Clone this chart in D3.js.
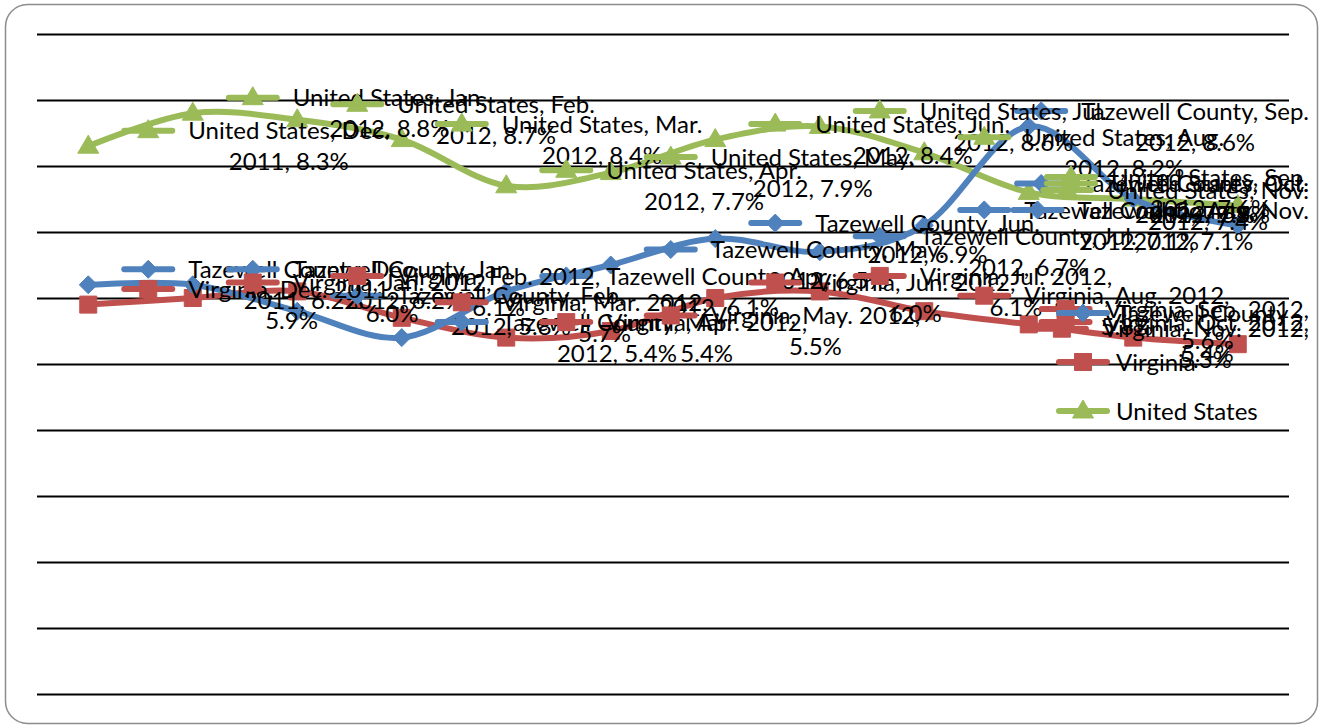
<!DOCTYPE html>
<html>
<head>
<meta charset="utf-8">
<script src="https://cdn.jsdelivr.net/npm/d3@7"></script>
<style>
  html, body { margin: 0; padding: 0; background: #fff; }
  svg { display: block; }
  text { font-family: Lato, "Open Sans", sans-serif; fill: #000; }
</style>
</head>
<body>
<svg id="chart" width="1324" height="728"></svg>
<script>
// Monthly unemployment rates, not seasonally adjusted (%)
const months = ["Dec.", "Jan.", "Feb.", "Mar.", "Apr.", "May.", "Jun.", "Jul.", "Aug.", "Sep.", "Oct.", "Nov."];
const years  = ["2011", "2012", "2012", "2012", "2012", "2012", "2012", "2012", "2012", "2012", "2012", "2012"];

const tazewellCounty = [6.2, 6.2, 5.8, 5.4, 6.1, 6.5, 6.9, 6.7, 7.1, 8.6, 7.5, 7.1];
const virginia       = [5.9, 6.0, 6.1, 5.7, 5.4, 5.5, 6.0, 6.1, 5.8, 5.6, 5.4, 5.3];
const unitedStates   = [8.3, 8.8, 8.7, 8.4, 7.7, 7.9, 8.4, 8.6, 8.2, 7.6, 7.5, 7.4];

const seriesNames = ["Tazewell County", "Virginia", "United States"];
const yTicks = [0, 1, 2, 3, 4, 5, 6, 7, 8, 9, 10];

const categories = months.map((m, i) => m + " " + years[i]);
const series = [
  { name: seriesNames[0], values: tazewellCounty, color: "#4F81BD", shape: "diamond" },
  { name: seriesNames[1], values: virginia,       color: "#C0504D", shape: "square" },
  { name: seriesNames[2], values: unitedStates,   color: "#9BBB59", shape: "triangle" }
];

const W = 1324, H = 728;
const svg = d3.select("#chart");
const fontSize = 24;
const lineH = 31;

// outer chart frame
svg.append("rect")
  .attr("x", 5.5).attr("y", 4.5)
  .attr("width", W - 12).attr("height", H - 9)
  .attr("rx", 22).attr("ry", 22)
  .attr("fill", "#fff").attr("stroke", "#8c8c8c").attr("stroke-width", 1.5);

const x = d3.scalePoint().domain(categories).range([36, 1290]).padding(0.5);
const y = d3.scaleLinear().domain([0, 10]).range([694, 34]);

// horizontal gridlines
svg.append("g").selectAll("line").data(yTicks).join("line")
  .attr("x1", 37).attr("x2", 1289)
  .attr("y1", d => Math.round(y(d)) + 0.5).attr("y2", d => Math.round(y(d)) + 0.5)
  .attr("stroke", "#000").attr("stroke-width", 1.8);

function markerPath(shape) {
  if (shape === "diamond") return "M0,-9L9,0L0,9L-9,0Z";
  if (shape === "square") return "M-8.5,-8.5h17v17h-17Z";
  return "M0,-11L10.5,7L-10.5,7Z";
}

const line = d3.line()
  .x((d, i) => x(categories[i]))
  .y(d => y(d))
  .curve(d3.curveCatmullRom.alpha(0));

// series lines, drawn so that the county line sits on top
const drawOrder = [series[2], series[1], series[0]];
drawOrder.forEach(s => {
  const g = svg.append("g");
  g.append("path")
    .attr("d", line(s.values))
    .attr("fill", "none").attr("stroke", s.color)
    .attr("stroke-width", 6).attr("stroke-linejoin", "round").attr("stroke-linecap", "round");
  g.selectAll("path.m").data(s.values).join("path")
    .attr("class", "m")
    .attr("transform", (d, i) => `translate(${x(categories[i])},${y(d)})`)
    .attr("d", markerPath(s.shape))
    .attr("fill", s.color).attr("stroke", s.color).attr("stroke-width", 1);
});

// text measurement helper
const probe = svg.append("text").attr("font-size", fontSize).attr("x", -1000).attr("y", -1000);
function measure(str) { probe.text(str); return probe.node().getComputedTextLength(); }
const wrapWidth = measure("Tazewell County, Sep.") * 1.03;
function wrap(str) {
  const words = str.split(" ");
  const lines = [];
  let cur = "";
  words.forEach(w => {
    const t = cur ? cur + " " + w : w;
    if (cur && measure(t) > wrapWidth) { lines.push(cur); cur = w; }
    else cur = t;
  });
  lines.push(cur);
  return lines;
}

// legend-key glyph: short line with the series marker
function drawKey(g, s, cx, cy) {
  g.append("line")
    .attr("x1", cx - 24).attr("x2", cx + 24).attr("y1", cy).attr("y2", cy)
    .attr("stroke", s.color).attr("stroke-width", 6).attr("stroke-linecap", "round");
  g.append("path")
    .attr("transform", `translate(${cx},${cy})`)
    .attr("d", markerPath(s.shape))
    .attr("fill", s.color).attr("stroke", s.color);
}

// data labels: key + "Series, Month Year, value%" to the right of each point
const labelLayer = svg.append("g");
const rightLimit = 1309;
series.forEach(s => {
  s.values.forEach((v, i) => {
    const px = x(categories[i]), py = y(v);
    const str = `${s.name}, ${months[i]} ${years[i]}, ${v.toFixed(1)}%`;
    const lines = wrap(str);
    const tw = d3.max(lines, l => measure(l));
    let shift = 0;
    if (px + 100 + tw > rightLimit) shift = px + 100 + tw - rightLimit;
    const top = py - (lines.length - 1) * lineH / 2;
    const g = labelLayer.append("g");
    drawKey(g, s, px + 60 - shift, top);
    const cx = px + 100 + tw / 2 - shift;
    lines.forEach((l, k) => {
      g.append("text")
        .attr("x", cx).attr("y", top + k * lineH)
        .attr("dy", "0.36em")
        .attr("text-anchor", "middle")
        .attr("font-size", fontSize)
        .text(l);
    });
  });
});

// legend
const legend = svg.append("g");
series.forEach((s, k) => {
  const ly = 313 + k * 49;
  drawKey(legend, s, 1083, ly);
  legend.append("text")
    .attr("x", 1116).attr("y", ly).attr("dy", "0.36em")
    .attr("font-size", fontSize)
    .text(s.name);
});
probe.remove();
</script>
</body>
</html>
